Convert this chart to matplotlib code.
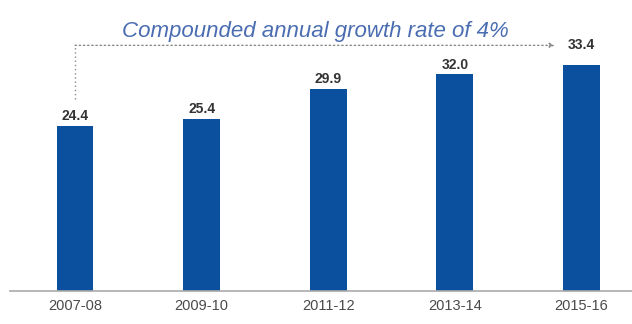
import matplotlib
matplotlib.use("Agg")
import matplotlib.pyplot as plt

periods = ["2007-08", "2009-10", "2011-12", "2013-14", "2015-16"]
values = [24.4, 25.4, 29.9, 32.0, 33.4]
cagr_text = "Compounded annual growth rate of 4%"

plt.rcParams["font.family"] = ["Liberation Sans", "DejaVu Sans"]

fig = plt.figure(figsize=(6.32, 3.24), dpi=100)
ax = fig.add_axes([10 / 632, 1 - 291 / 324, 622 / 632, 291 / 324])

x = list(range(len(periods)))
bar_color = "#0b4f9f"
ax.bar(x, values, width=0.29, color=bar_color, zorder=2)

ax.set_xlim(-0.514, 4.40)
ax.set_ylim(0, 43)

# value labels above bars (last one sits beside the arrow)
for xi, v in zip(x[:-1], values[:-1]):
    ax.annotate(f"{v:.1f}", (xi, v), xytext=(0, 2), textcoords="offset points",
                ha="center", va="bottom", fontsize=10, fontweight="bold",
                color="#333333")

arrow_y = 36.3
ax.text(x[-1], arrow_y, f"{values[-1]:.1f}", ha="center", va="center",
        fontsize=10, fontweight="bold", color="#333333")

# dotted growth connector
ax.plot([x[0], x[0]], [28.3, arrow_y], ls=(0, (1, 2)), color="#8a8a8a", lw=1)
ax.annotate("", xy=(3.79, arrow_y), xytext=(x[0], arrow_y),
            arrowprops=dict(arrowstyle="-|>", linestyle=(0, (1, 2)),
                            color="#8a8a8a", lw=1, mutation_scale=7,
                            shrinkA=0, shrinkB=0))

ax.text(1.9, 38.4, cagr_text, ha="center", va="center", fontsize=16,
        style="italic", color="#4a6db2")

ax.set_xticks(x)
ax.set_xticklabels(periods, fontsize=10.5, color="#4a4a4a")
ax.tick_params(axis="x", length=0, pad=6)
ax.set_yticks([])
for side in ["top", "right", "left"]:
    ax.spines[side].set_visible(False)
ax.spines["bottom"].set_color("#aaaaaa")
ax.spines["bottom"].set_linewidth(1.2)

fig.savefig("out.png", dpi=100)
